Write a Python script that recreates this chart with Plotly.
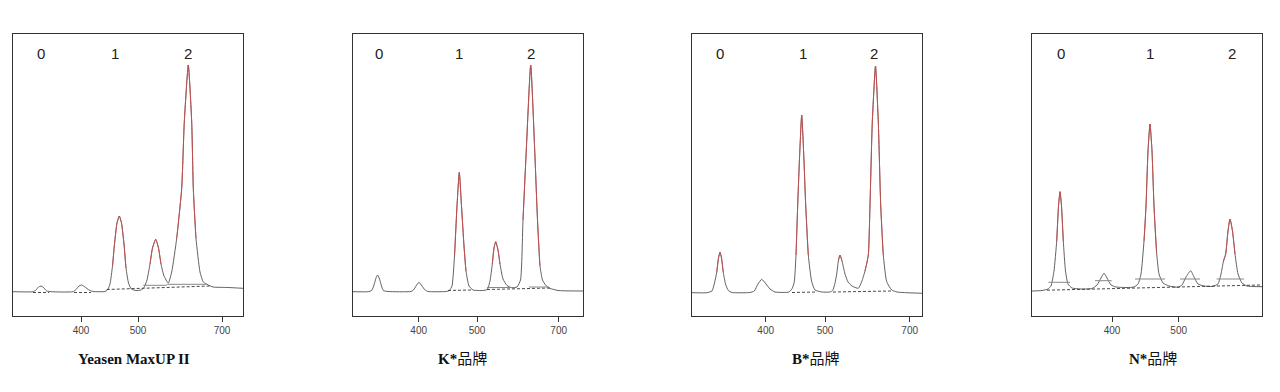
import plotly.graph_objects as go

# ---------------- data ----------------
# x: migration position inside each panel (0..230), y: signal (0..282)
panel_titles = ["<b>Yeasen MaxUP II</b>", "<b>K*</b>品牌", "<b>B*</b>品牌", "<b>N*</b>品牌"]
tick_labels = [["400", "500", "700"], ["400", "500", "700"], ["400", "500", "700"], ["400", "500"]]
tick_positions = [[68, 125, 209], [65.7, 124, 205.7], [73.7, 133, 217.7], [80, 146.7]]

peak_names = ["0", "1", "2"]
peak_label_x = [[27.7, 102, 175.3], [26, 106.3, 177.7], [28, 110.7, 182.3], [28.7, 118, 200]]

p1_x = [0, 20, 23, 25.5, 28, 30.5, 33.7, 38, 60, 63, 66, 68.7, 72, 76, 80, 92, 94.5, 97, 99.5, 101.5,
        104, 106.3, 108.5, 111, 113, 115.5, 118.3, 123, 128, 131, 134, 137, 139.5, 142.7, 145.5, 148,
        151, 155.3, 158.7, 163.7, 168.7, 171.3, 175.3, 178.7, 180.3, 183, 187, 190.3, 195.3,
        200, 215, 230]
p1_y = [24.3, 24.3, 26, 29, 30, 28.5, 25, 24.3, 24.3, 26.5, 30, 31, 29, 26, 24.5, 24.5, 26, 32, 50, 72,
        93, 100, 93, 72, 48, 33, 27, 25.5, 26, 28.5, 36, 52, 68, 76.7, 68, 52,
        40, 33, 44, 77.7, 127.7, 194, 251, 194, 127.7, 77.7, 44, 34, 31,
        29, 28.5, 27.7]

p2_x = [0, 15, 18.7, 21, 23, 24.7, 26.5, 28.5, 30.3, 35, 58, 60.5, 63, 66, 69, 72, 75, 93, 96.3, 99,
        101.5, 104, 106.3, 108.5, 111, 113, 116, 120, 130, 134.3, 137, 139.3, 141, 142.7, 145, 147,
        150, 154, 158.7, 164, 167.5, 170, 173.3, 177.7, 181.7, 184.5, 187, 189.5, 192.5, 196, 205, 230]
p2_y = [24.3, 24.3, 25.5, 31, 38, 41, 37, 30, 25.5, 24.5, 24.5, 26, 30, 33.7, 30, 26, 24.5, 24.5, 25.5, 30,
        60, 110, 143.7, 110, 70, 45, 30, 26, 25.5, 26.5, 35, 52, 68, 74.3, 66, 52,
        37, 30.5, 28.3, 29, 36, 96, 166, 251, 166, 96, 50, 36, 31, 28, 25.5, 25]

p3_x = [0, 15, 20, 22.5, 24.7, 26.5, 28, 29.5, 31.3, 33.5, 36.3, 40, 58, 62.3, 66, 69.7, 74, 78, 83, 97,
        100.3, 102.3, 104, 105.7, 107.6, 109.7, 111.8, 113.7, 116.3, 119.7, 123, 130, 138, 140.7, 143,
        144.7, 146.5, 148, 150, 153, 156, 160, 166.3, 169.7, 173, 176.3, 178, 180.3, 183.5, 186.3,
        188.7, 191.3, 194.7, 199.7, 205, 230]
p3_y = [23.3, 23.3, 25, 33, 43.5, 58, 63.7, 58, 43.5, 32, 25.5, 23.5, 23.5, 25, 32, 36.7, 32, 27, 24, 24,
        27.7, 34.3, 61, 111, 160, 201, 160, 111, 61, 34.3, 26, 24, 24, 25.5, 33,
        42, 56, 61, 55, 42, 34, 30, 27.7, 34.3, 45, 61, 111, 194, 250, 194,
        111, 61, 34.3, 26, 24, 22.7]

p4_x = [0, 10, 16, 19, 22, 24.7, 26.5, 28, 29.5, 31.3, 33.5, 36, 40, 50, 60, 65, 69, 72, 75, 79, 84, 95,
        102, 106, 109, 112, 114, 116, 118, 120, 122, 124.5, 127, 131, 137, 146.3, 150, 154, 158.7, 162,
        166, 172, 180, 186, 189, 191.5, 193.7, 196, 198, 200.5, 203, 206, 210, 215, 230]
p4_y = [25, 25.5, 27, 30, 45, 75, 110, 124.3, 110, 75, 45, 32, 28, 27, 27.5, 31, 38, 42.7, 38, 31, 29, 28.5,
        29, 32, 42, 75, 110, 165, 192, 165, 110, 65, 42, 33, 30, 28.7, 31, 39, 45.3, 39,
        32, 30, 29.5, 32, 42, 55, 62, 85, 97, 85, 62, 42, 33, 30, 29.3]

trace_x = [p1_x, p2_x, p3_x, p4_x]
trace_y = [p1_y, p2_y, p3_y, p4_y]

# dashed fitted baselines: (x0, y0, x1, y1)
dashed_base = [
    [(20, 23.5, 36, 23.5), (61, 23.5, 78, 23.5), (93.7, 26.5, 197, 30)],
    [(95, 25.5, 118, 26), (134, 26.5, 197, 28)],
    [(100, 23.5, 124, 24), (141, 24, 200, 25)],
    [(15, 25.8, 228, 31)],
]
# solid peak-base segments
solid_base = [
    [(130.3, 30.7, 153.7, 30.7), (153.7, 31.7, 193.7, 31.7)],
    [(134, 28.5, 160, 28.5), (176, 29, 196, 29)],
    [],
    [(16.3, 33.7, 38, 33.7), (63, 35.3, 79.7, 35.3), (103, 37, 133, 37), (148, 37, 168, 37), (184.7, 37, 212, 37)],
]

# ---------------- layout geometry ----------------
PAGE_OFFSET = 8  # default body margin of the html page
W, H = 1280 - PAGE_OFFSET, 392 - PAGE_OFFSET
panel_left = [13, 353, 692, 1032]
panel_width = 230
frame_top, frame_bottom = 34, 316
title_x = [133.7, 462.5, 816, 1153]
title_y = 359
label_y = 263

fig = go.Figure()
annotations = []

for i in range(4):
    xa = "x" if i == 0 else f"x{i+1}"
    ya = "y" if i == 0 else f"y{i+1}"
    xs, ys = trace_x[i], trace_y[i]
    base = min(ys)
    red_y = [y if y > base + 20 else None for y in ys]
    fig.add_trace(go.Scatter(x=xs, y=ys, mode="lines", xaxis=xa, yaxis=ya,
                             line=dict(color="#505050", width=0.9, shape="spline", smoothing=0.5),
                             showlegend=False))
    fig.add_trace(go.Scatter(x=xs, y=red_y, mode="lines", xaxis=xa, yaxis=ya, opacity=0.85,
                             line=dict(color="#d24848", width=1.0, shape="spline", smoothing=0.5),
                             hoverinfo="skip", showlegend=False, connectgaps=False))
    for (x0, y0, x1, y1) in dashed_base[i]:
        fig.add_trace(go.Scatter(x=[x0, x1], y=[y0, y1], mode="lines", xaxis=xa, yaxis=ya,
                                 line=dict(color="#333333", width=0.9, dash="3px,2px"),
                                 hoverinfo="skip", showlegend=False))
    for (x0, y0, x1, y1) in solid_base[i]:
        fig.add_trace(go.Scatter(x=[x0, x1], y=[y0, y1], mode="lines", xaxis=xa, yaxis=ya,
                                 line=dict(color="#888888", width=1),
                                 hoverinfo="skip", showlegend=False))

    left = panel_left[i] - PAGE_OFFSET
    dom_x = [left / W, (left + panel_width) / W]
    dom_y = [(H - (frame_bottom - PAGE_OFFSET)) / H, (H - (frame_top - PAGE_OFFSET)) / H]
    xkey = "xaxis" if i == 0 else f"xaxis{i+1}"
    ykey = "yaxis" if i == 0 else f"yaxis{i+1}"
    fig.layout[xkey] = dict(domain=dom_x, range=[0, panel_width], anchor=ya,
                            showgrid=False, zeroline=False, showline=True, mirror=True,
                            linecolor="#333333", linewidth=1,
                            tickmode="array", tickvals=tick_positions[i], ticktext=tick_labels[i],
                            ticks="outside", ticklen=5, tickcolor="#333333",
                            tickfont=dict(family="Liberation Sans, Arial", size=10, color="#444444"),
                            fixedrange=True)
    fig.layout[ykey] = dict(domain=dom_y, range=[0, frame_bottom - frame_top], anchor=xa,
                            showgrid=False, zeroline=False, showline=True, mirror=True,
                            linecolor="#333333", linewidth=1, showticklabels=False, ticks="",
                            fixedrange=True)

    for name, lx in zip(peak_names, peak_label_x[i]):
        annotations.append(dict(x=lx, y=label_y, xref=xa, yref=ya, text=name, showarrow=False,
                                font=dict(family="Liberation Sans, Arial", size=15, color="#222222")))
    annotations.append(dict(x=(title_x[i] - PAGE_OFFSET) / W, y=(H - (title_y - PAGE_OFFSET)) / H,
                            xref="paper", yref="paper",
                            text=panel_titles[i], showarrow=False, xanchor="center", yanchor="middle",
                            font=dict(family="Liberation Serif, Noto Sans CJK SC", size=15, color="#111111")))

fig.update_layout(width=W, height=H, margin=dict(l=0, r=0, t=0, b=0),
                  paper_bgcolor="white", plot_bgcolor="white",
                  annotations=annotations, showlegend=False)

fig.write_html("out.html")
